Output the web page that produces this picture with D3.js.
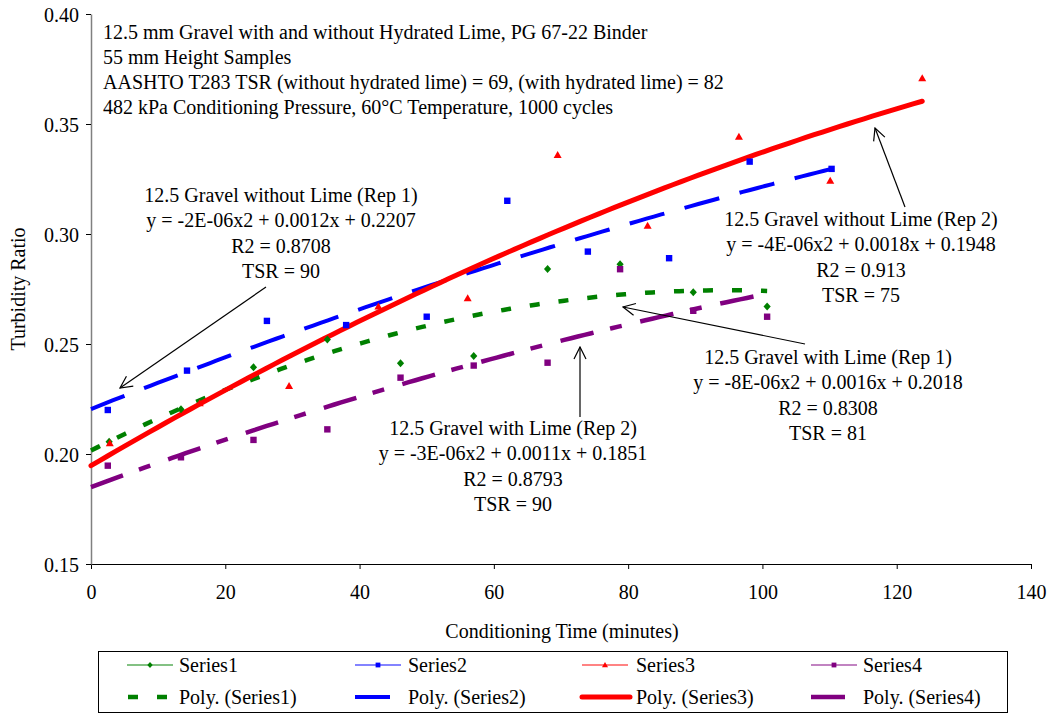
<!DOCTYPE html>
<html>
<head>
<meta charset="utf-8">
<script src="https://cdn.jsdelivr.net/npm/d3@7"></script>
<style>
  html, body { margin: 0; padding: 0; background: #fff; }
  svg { display: block; }
</style>
</head>
<body>
<svg id="chart" width="1051" height="717"></svg>
<script>
// ---------------- data ----------------
const series1X = [2.7, 13.4, 24.2, 35.2, 46.1, 57.0, 68.0, 78.8, 89.7, 100.7];
const series1Y = [0.2056, 0.2203, 0.2394, 0.2521, 0.2412, 0.2445, 0.2841, 0.2862, 0.2735, 0.2670];

const series2X = [2.5, 14.3, 26.2, 38.0, 50.0, 62.0, 74.0, 86.1, 98.1, 110.3];
const series2Y = [0.2200, 0.2379, 0.2605, 0.2586, 0.2624, 0.3151, 0.2920, 0.2890, 0.3329, 0.3296];

const series3X = [2.8, 16.2, 29.5, 42.8, 56.1, 69.5, 82.9, 96.5, 110.1, 123.8];
const series3Y = [0.2049, 0.2231, 0.2309, 0.2670, 0.2708, 0.3359, 0.3038, 0.3442, 0.3242, 0.3708];

const series4X = [2.5, 13.4, 24.2, 35.2, 46.1, 57.0, 68.0, 78.8, 89.7, 100.7];
const series4Y = [0.1947, 0.1985, 0.2064, 0.2112, 0.2347, 0.2402, 0.2415, 0.2840, 0.2651, 0.2624];

const seriesNames = ["Series1", "Series2", "Series3", "Series4"];
const trendNames = ["Poly. (Series1)", "Poly. (Series2)", "Poly. (Series3)", "Poly. (Series4)"];

const xTicks = [0, 20, 40, 60, 80, 100, 120, 140];
const yTicks = [0.15, 0.20, 0.25, 0.30, 0.35, 0.40];

const infoLines = [
  "12.5 mm Gravel with and without Hydrated Lime, PG 67-22 Binder",
  "55 mm Height Samples",
  "AASHTO T283 TSR (without hydrated lime) = 69, (with hydrated lime) = 82",
  "482 kPa Conditioning Pressure, 60\u00B0C Temperature, 1000 cycles"
];

const noteRep1NoLime = ["12.5 Gravel without Lime (Rep 1)", "y = -2E-06x2 + 0.0012x + 0.2207", "R2 = 0.8708", "TSR = 90"];
const noteRep2NoLime = ["12.5 Gravel without Lime (Rep 2)", "y = -4E-06x2 + 0.0018x + 0.1948", "R2 = 0.913", "TSR = 75"];
const noteRep1Lime = ["12.5 Gravel with Lime (Rep 1)", "y = -8E-06x2 + 0.0016x + 0.2018", "R2 = 0.8308", "TSR = 81"];
const noteRep2Lime = ["12.5 Gravel with Lime (Rep 2)", "y = -3E-06x2 + 0.0011x + 0.1851", "R2 = 0.8793", "TSR = 90"];

// ---------------- setup ----------------
const FONT = "'Liberation Serif','Times New Roman',serif";
const svg = d3.select("#chart");
const x = d3.scaleLinear().domain([0, 140]).range([91, 1031]);
const y = d3.scaleLinear().domain([0.15, 0.40]).range([564, 14]);

const styles = [
  { color: "#008000", width: 4.5, dash: "10,19", marker: "diamond" },
  { color: "#0000FF", width: 4, dash: "36,21", marker: "square" },
  { color: "#FF0000", width: 5, dash: null, marker: "triangle" },
  { color: "#800080", width: 4.5, dash: "34,17,12,19", marker: "square" }
];
const allX = [series1X, series2X, series3X, series4X];
const allY = [series1Y, series2Y, series3Y, series4Y];

// quadratic least squares fit (like a spreadsheet polynomial trendline)
function quadFit(xs, ys) {
  let S = [[0,0,0],[0,0,0],[0,0,0]], b = [0,0,0];
  xs.forEach((xv, i) => {
    const p = [1, xv, xv * xv];
    for (let r = 0; r < 3; r++) {
      b[r] += p[r] * ys[i];
      for (let c = 0; c < 3; c++) S[r][c] += p[r] * p[c];
    }
  });
  // Gaussian elimination
  const M = S.map((row, i) => row.concat([b[i]]));
  for (let i = 0; i < 3; i++) {
    let piv = i;
    for (let k = i + 1; k < 3; k++) if (Math.abs(M[k][i]) > Math.abs(M[piv][i])) piv = k;
    [M[i], M[piv]] = [M[piv], M[i]];
    for (let k = i + 1; k < 3; k++) {
      const f = M[k][i] / M[i][i];
      for (let c = i; c < 4; c++) M[k][c] -= f * M[i][c];
    }
  }
  const sol = [0,0,0];
  for (let i = 2; i >= 0; i--) {
    let s = M[i][3];
    for (let c = i + 1; c < 3; c++) s -= M[i][c] * sol[c];
    sol[i] = s / M[i][i];
  }
  return sol; // [c0, c1, c2]
}

function markerPath(type, s) {
  if (type === "diamond") return `M0,${-s} L${s*0.9},0 L0,${s} L${-s*0.9},0 Z`;
  if (type === "triangle") return `M0,${-s} L${s},${s*0.75} L${-s},${s*0.75} Z`;
  return `M${-s*0.8},${-s*0.8} H${s*0.8} V${s*0.8} H${-s*0.8} Z`;
}

// ---------------- axes ----------------
const xAxis = svg.append("g").attr("transform", "translate(0,564)")
  .call(d3.axisBottom(x).tickValues(xTicks).tickSize(5).tickSizeOuter(0).tickFormat(d3.format("d")));
xAxis.select(".domain").attr("stroke", "#000").attr("stroke-width", 1.2);
xAxis.selectAll(".tick line").attr("stroke", "#000");
xAxis.selectAll(".tick text").attr("y", 28).attr("dy", "0.35em")
  .style("font-family", FONT).style("font-size", "20px").attr("fill", "#000");

const yAxis = svg.append("g").attr("transform", "translate(91,0)")
  .call(d3.axisLeft(y).tickValues(yTicks).tickSize(5).tickSizeOuter(0).tickFormat(d3.format(".2f")));
yAxis.select(".domain").attr("stroke", "#808080").attr("stroke-width", 1.5);
yAxis.selectAll(".tick line").attr("stroke", "#000");
yAxis.selectAll(".tick text").attr("x", -12).attr("dy", "0.35em")
  .style("font-family", FONT).style("font-size", "20px").attr("fill", "#000");

svg.append("text").attr("x", 562).attr("y", 631).attr("dy", "0.35em")
  .attr("text-anchor", "middle").style("font-family", FONT).style("font-size", "20px")
  .text("Conditioning Time (minutes)");
svg.append("text").attr("transform", "translate(18,289) rotate(-90)").attr("dy", "0.35em")
  .attr("text-anchor", "middle").style("font-family", FONT).style("font-size", "20px")
  .text("Turbidity Ratio");

// ---------------- trendlines ----------------
const line = d3.line().x(d => x(d[0])).y(d => y(d[1]));
const trendG = svg.append("g");
allX.forEach((xs, i) => {
  const [c0, c1, c2] = quadFit(xs, allY[i]);
  const xmax = d3.max(xs);
  const pts = d3.range(0, 101).map(k => { const xv = xmax * k / 100; return [xv, c0 + c1 * xv + c2 * xv * xv]; });
  const st = styles[i];
  trendG.append("path").attr("d", line(pts)).attr("fill", "none")
    .attr("stroke", st.color).attr("stroke-width", st.width)
    .attr("stroke-dasharray", st.dash).attr("stroke-linecap", st.dash ? "butt" : "round");
});

// ---------------- points ----------------
const ptsG = svg.append("g");
allX.forEach((xs, i) => {
  const st = styles[i];
  ptsG.selectAll(null).data(xs.map((xv, k) => [xv, allY[i][k]])).enter().append("path")
    .attr("transform", d => `translate(${x(d[0])},${y(d[1])})`)
    .attr("d", markerPath(st.marker, 4)).attr("fill", st.color);
});

// ---------------- info text ----------------
svg.append("g").selectAll("text").data(infoLines).enter().append("text")
  .attr("x", 103).attr("y", (d, i) => 32 + i * 25).attr("dy", "0.35em")
  .style("font-family", FONT).style("font-size", "20px").text(d => d);

// ---------------- annotations ----------------
const defs = svg.append("defs");
defs.append("marker").attr("id", "arrowOpen").attr("markerUnits", "userSpaceOnUse")
  .attr("viewBox", "-1 -7 14 14").attr("markerWidth", 14).attr("markerHeight", 14)
  .attr("refX", 12).attr("refY", 0).attr("orient", "auto")
  .append("path").attr("d", "M0,-6 L12,0 L0,6").attr("fill", "none").attr("stroke", "#000").attr("stroke-width", 1.2);

function note(lines, cx, cy) {
  svg.append("g").selectAll("text").data(lines).enter().append("text")
    .attr("x", cx).attr("y", (d, i) => cy + i * 25.3).attr("dy", "0.35em")
    .attr("text-anchor", "middle").style("font-family", FONT).style("font-size", "20px").text(d => d);
}
function arrow(x1, y1, x2, y2) {
  svg.append("line").attr("x1", x1).attr("y1", y1).attr("x2", x2).attr("y2", y2)
    .attr("stroke", "#000").attr("stroke-width", 1.2).attr("marker-end", "url(#arrowOpen)");
}
note(noteRep1NoLime, 281, 195);
arrow(266, 287, 120, 388);
note(noteRep2NoLime, 861, 219);
arrow(905, 207, 875, 128);
note(noteRep1Lime, 828, 357);
arrow(805, 344, 623, 307);
note(noteRep2Lime, 513, 428);
arrow(580, 417, 580, 347);

// ---------------- legend ----------------
const lg = svg.append("g");
lg.append("rect").attr("x", 98.5).attr("y", 651.5).attr("width", 909).attr("height", 61)
  .attr("fill", "#fff").attr("stroke", "#000").attr("stroke-width", 1);
const colX = [127, 355, 582, 811];
const textX = [179, 408, 636, 863];
const row1 = 665, row2 = 697;
seriesNames.forEach((name, i) => {
  const st = styles[i];
  lg.append("line").attr("x1", colX[i]).attr("x2", colX[i] + 46).attr("y1", row1).attr("y2", row1)
    .attr("stroke", st.color).attr("stroke-opacity", 0.65).attr("stroke-width", 1.5);
  lg.append("path").attr("transform", `translate(${colX[i] + 23},${row1})`)
    .attr("d", markerPath(st.marker, 3)).attr("fill", st.color);
  lg.append("text").attr("x", textX[i]).attr("y", row1).attr("dy", "0.35em")
    .style("font-family", FONT).style("font-size", "20px").text(name);
});
trendNames.forEach((name, i) => {
  const st = styles[i];
  const len = i === 0 ? 40 : (i === 2 ? 48 : 35);
  lg.append("line").attr("x1", colX[i] + (i === 0 ? 1 : 0)).attr("x2", colX[i] + len).attr("y1", row2).attr("y2", row2)
    .attr("stroke", st.color).attr("stroke-width", st.width)
    .attr("stroke-dasharray", st.dash).attr("stroke-linecap", st.dash ? "butt" : "round");
  lg.append("text").attr("x", textX[i]).attr("y", row2).attr("dy", "0.35em")
    .style("font-family", FONT).style("font-size", "20px").text(name);
});
</script>
</body>
</html>
